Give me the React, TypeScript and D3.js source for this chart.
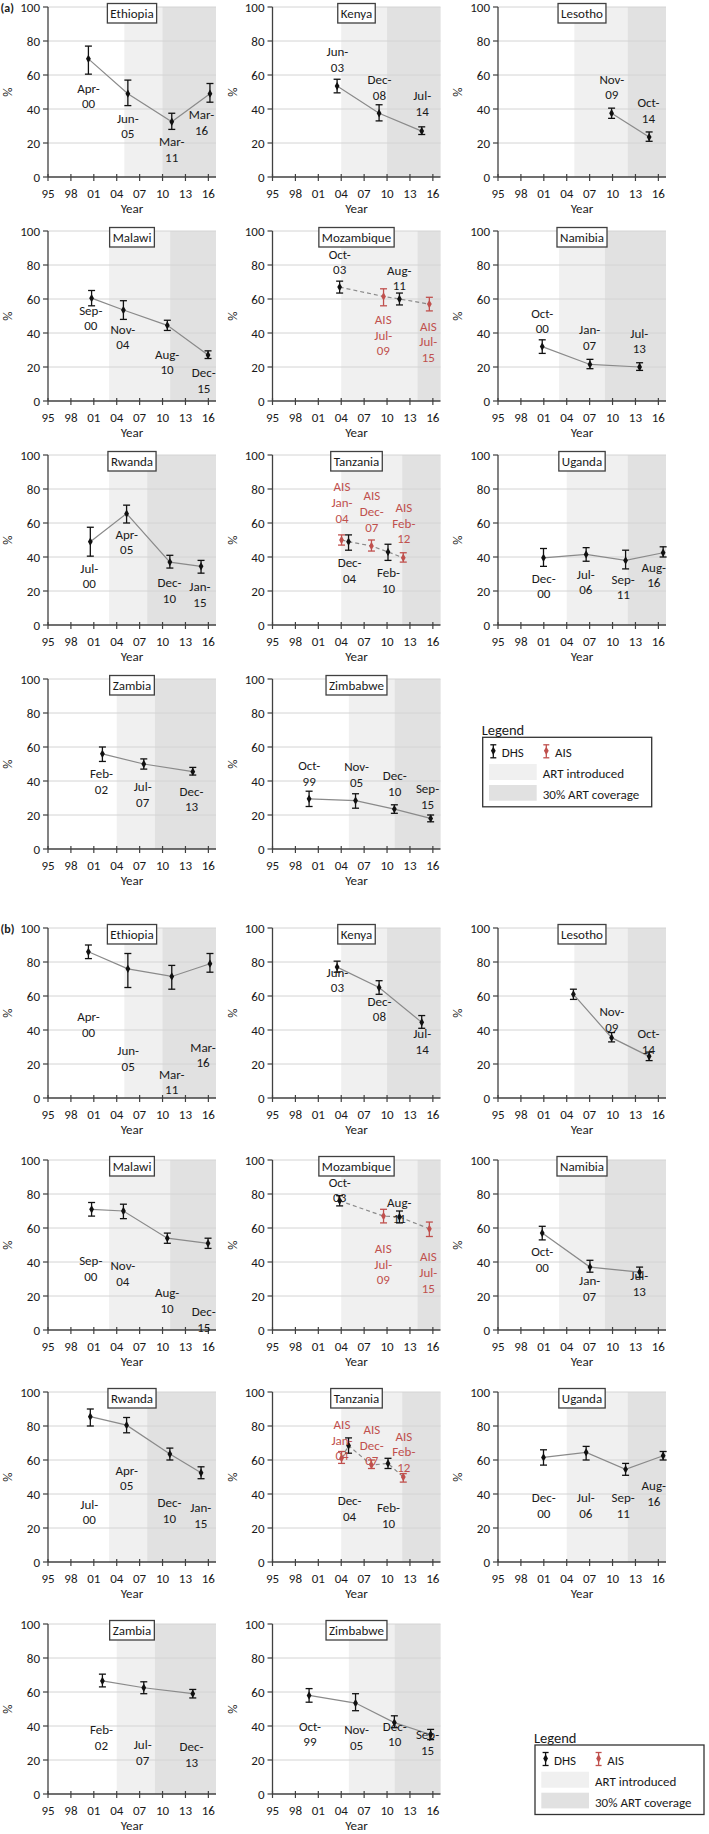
import React from "react";
import * as d3 from "d3";

type Survey = { src: "DHS" | "AIS"; date: string; v: number; lo: number; hi: number };

const YEAR_TICKS = [1995, 1998, 2001, 2004, 2007, 2010, 2013, 2016];
const Y_TICKS = [0, 20, 40, 60, 80, 100];
const COUNTRIES = ["Ethiopia", "Kenya", "Lesotho", "Malawi", "Mozambique", "Namibia", "Rwanda", "Tanzania", "Uganda", "Zambia", "Zimbabwe"];
const ART_INTRODUCED = [2005, 2004, 2005, 2003, 2004, 2003, 2003, 2004, 2004, 2004, 2005];
const ART_30PCT = [2010, 2010, 2012, 2011, 2014, 2009, 2008, 2012, 2012, 2009, 2011];

// ---------- Panel (a) ----------
const A_ETHIOPIA: Survey[] = [
  { src: "DHS", date: "Apr-00", v: 69.5, lo: 60.5, hi: 77 },
  { src: "DHS", date: "Jun-05", v: 49, lo: 42, hi: 57 },
  { src: "DHS", date: "Mar-11", v: 32.5, lo: 28, hi: 37.5 },
  { src: "DHS", date: "Mar-16", v: 49, lo: 44, hi: 55 },
];
const A_KENYA: Survey[] = [
  { src: "DHS", date: "Jun-03", v: 53.5, lo: 49.5, hi: 57.5 },
  { src: "DHS", date: "Dec-08", v: 37.5, lo: 33, hi: 42.5 },
  { src: "DHS", date: "Jul-14", v: 27, lo: 25, hi: 29.5 },
];
const A_LESOTHO: Survey[] = [
  { src: "DHS", date: "Nov-09", v: 37.5, lo: 34.5, hi: 40.5 },
  { src: "DHS", date: "Oct-14", v: 23.5, lo: 21, hi: 26.5 },
];
const A_MALAWI: Survey[] = [
  { src: "DHS", date: "Sep-00", v: 60.5, lo: 56, hi: 65 },
  { src: "DHS", date: "Nov-04", v: 53.5, lo: 48, hi: 59 },
  { src: "DHS", date: "Aug-10", v: 44.5, lo: 41.5, hi: 47.5 },
  { src: "DHS", date: "Dec-15", v: 27, lo: 25, hi: 29.5 },
];
const A_MOZAMBIQUE: Survey[] = [
  { src: "DHS", date: "Oct-03", v: 67, lo: 63.5, hi: 70.5 },
  { src: "AIS", date: "Jul-09", v: 61.5, lo: 56, hi: 66 },
  { src: "DHS", date: "Aug-11", v: 60, lo: 56.5, hi: 63.5 },
  { src: "AIS", date: "Jul-15", v: 57, lo: 53, hi: 61 },
];
const A_NAMIBIA: Survey[] = [
  { src: "DHS", date: "Oct-00", v: 32, lo: 28, hi: 36 },
  { src: "DHS", date: "Jan-07", v: 21.5, lo: 19, hi: 24.5 },
  { src: "DHS", date: "Jul-13", v: 20, lo: 18, hi: 22.5 },
];
const A_RWANDA: Survey[] = [
  { src: "DHS", date: "Jul-00", v: 49, lo: 40.5, hi: 57.5 },
  { src: "DHS", date: "Apr-05", v: 65.5, lo: 60, hi: 70.5 },
  { src: "DHS", date: "Dec-10", v: 37, lo: 33.5, hi: 41 },
  { src: "DHS", date: "Jan-15", v: 34.5, lo: 30.5, hi: 38 },
];
const A_TANZANIA: Survey[] = [
  { src: "AIS", date: "Jan-04", v: 50, lo: 47, hi: 53 },
  { src: "DHS", date: "Dec-04", v: 49, lo: 44, hi: 53 },
  { src: "AIS", date: "Dec-07", v: 46.5, lo: 43.5, hi: 50 },
  { src: "DHS", date: "Feb-10", v: 43, lo: 38, hi: 47.5 },
  { src: "AIS", date: "Feb-12", v: 39.5, lo: 37, hi: 42.5 },
];
const A_UGANDA: Survey[] = [
  { src: "DHS", date: "Dec-00", v: 39.5, lo: 34.5, hi: 45 },
  { src: "DHS", date: "Jul-06", v: 41.5, lo: 37.5, hi: 45.5 },
  { src: "DHS", date: "Sep-11", v: 38, lo: 33, hi: 44 },
  { src: "DHS", date: "Aug-16", v: 42.5, lo: 40, hi: 46 },
];
const A_ZAMBIA: Survey[] = [
  { src: "DHS", date: "Feb-02", v: 56, lo: 51.5, hi: 60 },
  { src: "DHS", date: "Jul-07", v: 50, lo: 47, hi: 53 },
  { src: "DHS", date: "Dec-13", v: 45.5, lo: 43.5, hi: 48 },
];
const A_ZIMBABWE: Survey[] = [
  { src: "DHS", date: "Oct-99", v: 29.5, lo: 25, hi: 34 },
  { src: "DHS", date: "Nov-05", v: 28.5, lo: 24, hi: 32.5 },
  { src: "DHS", date: "Dec-10", v: 23.5, lo: 21, hi: 26 },
  { src: "DHS", date: "Sep-15", v: 18, lo: 16, hi: 20 },
];
const A_SURVEYS = [A_ETHIOPIA, A_KENYA, A_LESOTHO, A_MALAWI, A_MOZAMBIQUE, A_NAMIBIA, A_RWANDA, A_TANZANIA, A_UGANDA, A_ZAMBIA, A_ZIMBABWE];
// label anchors [year, value of first text line]
const A_LABELS: ([number, number] | null)[][] = [
  [[2000.3, 52.3], [2005.45, 34.6], [2011.2, 20.9], [2015.1, 36.6]],
  [[2003.5, 73.7], [2009.0, 57.2], [2014.6, 47.8]],
  [[2009.9, 57.5], [2014.7, 43.7]],
  [[2000.6, 53.5], [2004.8, 42.2], [2010.6, 27.5], [2015.4, 16.7]],
  [[2003.8, 86.3], [2009.5, 48], [2011.6, 76.9], [2015.4, 44]],
  [[2000.8, 51.6], [2007.0, 41.8], [2013.5, 40]],
  [[2000.4, 33.4], [2005.3, 53.4], [2010.9, 24.9], [2014.9, 22.5]],
  [[2004.1, 81.4], [2005.1, 36.8], [2008.0, 76.1], [2010.2, 30.6], [2012.2, 69.2]],
  [[2001.0, 27.6], [2006.5, 30], [2011.4, 27], [2015.4, 34]],
  [[2002.0, 44.3], [2007.4, 36.8], [2013.8, 34]],
  [[1999.8, 49], [2006.0, 48.6], [2011.0, 43.3], [2015.3, 35.5]],
];

// ---------- Panel (b) ----------
const B_ETHIOPIA: Survey[] = [
  { src: "DHS", date: "Apr-00", v: 86, lo: 82, hi: 90 },
  { src: "DHS", date: "Jun-05", v: 76, lo: 65, hi: 85 },
  { src: "DHS", date: "Mar-11", v: 71.5, lo: 64, hi: 78 },
  { src: "DHS", date: "Mar-16", v: 79, lo: 74, hi: 85 },
];
const B_KENYA: Survey[] = [
  { src: "DHS", date: "Jun-03", v: 77, lo: 74, hi: 80.5 },
  { src: "DHS", date: "Dec-08", v: 65, lo: 61, hi: 69 },
  { src: "DHS", date: "Jul-14", v: 44.5, lo: 41, hi: 48.5 },
];
const B_LESOTHO: Survey[] = [
  { src: "DHS", date: "Nov-04", v: 61, lo: 58, hi: 64 },
  { src: "DHS", date: "Nov-09", v: 35.5, lo: 33, hi: 38.5 },
  { src: "DHS", date: "Oct-14", v: 24.5, lo: 22, hi: 27 },
];
const B_MALAWI: Survey[] = [
  { src: "DHS", date: "Sep-00", v: 71, lo: 67, hi: 75 },
  { src: "DHS", date: "Nov-04", v: 70, lo: 65.5, hi: 74 },
  { src: "DHS", date: "Aug-10", v: 54, lo: 51, hi: 57 },
  { src: "DHS", date: "Dec-15", v: 51, lo: 48, hi: 54 },
];
const B_MOZAMBIQUE: Survey[] = [
  { src: "DHS", date: "Oct-03", v: 76, lo: 73, hi: 79 },
  { src: "AIS", date: "Jul-09", v: 67, lo: 63, hi: 71 },
  { src: "DHS", date: "Aug-11", v: 66.5, lo: 63, hi: 70 },
  { src: "AIS", date: "Jul-15", v: 59.5, lo: 55, hi: 63.5 },
];
const B_NAMIBIA: Survey[] = [
  { src: "DHS", date: "Oct-00", v: 57, lo: 53, hi: 61 },
  { src: "DHS", date: "Jan-07", v: 37, lo: 34, hi: 41 },
  { src: "DHS", date: "Jul-13", v: 34, lo: 31, hi: 37 },
];
const B_RWANDA: Survey[] = [
  { src: "DHS", date: "Jul-00", v: 85.5, lo: 80, hi: 90 },
  { src: "DHS", date: "Apr-05", v: 80.5, lo: 76, hi: 85 },
  { src: "DHS", date: "Dec-10", v: 63.5, lo: 60, hi: 67 },
  { src: "DHS", date: "Jan-15", v: 52.5, lo: 49, hi: 56 },
];
const B_TANZANIA: Survey[] = [
  { src: "AIS", date: "Jan-04", v: 61, lo: 58, hi: 65 },
  { src: "DHS", date: "Dec-04", v: 68.5, lo: 64, hi: 73 },
  { src: "AIS", date: "Dec-07", v: 57, lo: 55, hi: 60 },
  { src: "DHS", date: "Feb-10", v: 58, lo: 55, hi: 61 },
  { src: "AIS", date: "Feb-12", v: 50, lo: 47, hi: 52 },
];
const B_UGANDA: Survey[] = [
  { src: "DHS", date: "Dec-00", v: 61.5, lo: 57, hi: 66 },
  { src: "DHS", date: "Jul-06", v: 64.5, lo: 60, hi: 68 },
  { src: "DHS", date: "Sep-11", v: 54.5, lo: 51, hi: 58 },
  { src: "DHS", date: "Aug-16", v: 62.5, lo: 60, hi: 65 },
];
const B_ZAMBIA: Survey[] = [
  { src: "DHS", date: "Feb-02", v: 66.5, lo: 63, hi: 70.5 },
  { src: "DHS", date: "Jul-07", v: 62.5, lo: 59, hi: 66 },
  { src: "DHS", date: "Dec-13", v: 59, lo: 56.5, hi: 61.5 },
];
const B_ZIMBABWE: Survey[] = [
  { src: "DHS", date: "Oct-99", v: 58, lo: 54, hi: 62 },
  { src: "DHS", date: "Nov-05", v: 53.5, lo: 49, hi: 59 },
  { src: "DHS", date: "Dec-10", v: 42, lo: 39, hi: 46 },
  { src: "DHS", date: "Sep-15", v: 35, lo: 32, hi: 38 },
];
const B_SURVEYS = [B_ETHIOPIA, B_KENYA, B_LESOTHO, B_MALAWI, B_MOZAMBIQUE, B_NAMIBIA, B_RWANDA, B_TANZANIA, B_UGANDA, B_ZAMBIA, B_ZIMBABWE];
const B_LABELS: ([number, number] | null)[][] = [
  [[2000.3, 48], [2005.5, 28], [2011.2, 14], [2015.3, 30]],
  [[2003.5, 74], [2009.0, 57], [2014.6, 38]],
  [null, [2009.9, 51], [2014.7, 38]],
  [[2000.6, 41], [2004.8, 38], [2010.6, 22], [2015.4, 11]],
  [[2003.8, 87], [2009.5, 48], [2011.6, 75], [2015.4, 43]],
  [[2000.8, 46], [2007.0, 29], [2013.5, 32]],
  [[2000.4, 34], [2005.3, 54], [2010.9, 35], [2015.0, 32]],
  [[2004.1, 81], [2005.1, 36], [2008.0, 78], [2010.2, 32], [2012.2, 74]],
  [[2001.0, 38], [2006.5, 38], [2011.4, 38], [2015.4, 45]],
  [[2002.0, 38], [2007.4, 29], [2013.8, 28]],
  [[1999.9, 40], [2006.0, 38], [2011.0, 40], [2015.3, 35]],
];

// ---------- layout & style ----------
const COL_X = [48, 272.5, 498];
const ROWS_A = [7, 231, 455, 679];
const ROWS_B = [928, 1160, 1392, 1624];
const PW = 168;
const PH = 170;
const FONT = "Carlito, Calibri, Lato, sans-serif";
const LIGHT = "#f0f0f0";
const DARK = "#e1e1e1";
const AIS_COLOR = "#c0504d";
const TXT = "#1a1a1a";

const MONTHS = ["Jan", "Feb", "Mar", "Apr", "May", "Jun", "Jul", "Aug", "Sep", "Oct", "Nov", "Dec"];
function dateToYear(d: string): number {
  const [m, y] = d.split("-");
  const yy = +y;
  const year = yy > 50 ? 1900 + yy : 2000 + yy;
  return year + (MONTHS.indexOf(m) + 0.5) / 12;
}

let _ctx: CanvasRenderingContext2D | null = null;
function textWidth(s: string, font: string): number {
  if (!_ctx) _ctx = document.createElement("canvas").getContext("2d");
  if (!_ctx) return s.length * 7;
  _ctx.font = font;
  return _ctx.measureText(s).width;
}

const diamond = d3.symbol().type(d3.symbolDiamond).size(20)() as string;

function Plot(props: { x0: number; y0: number; name: string; art: number; cov: number; surveys: Survey[]; labels: ([number, number] | null)[] }) {
  const { x0, y0, name, art, cov, surveys, labels } = props;
  const x = d3.scaleLinear().domain([1995, 2017]).range([0, PW]);
  const y = d3.scaleLinear().domain([0, 100]).range([PH, 0]);
  const hasAIS = surveys.some((s) => s.src === "AIS");
  const sorted = [...surveys].sort((a, b) => dateToYear(a.date) - dateToYear(b.date));
  const line = d3.line<Survey>().x((d) => x(dateToYear(d.date))).y((d) => y(d.v));
  const tw = textWidth(name, `13px ${FONT}`);
  const boxW = tw + 6;
  return (
    <g transform={`translate(${x0},${y0})`} fontFamily={FONT}>
      <rect x={x(art)} y={0} width={PW - x(art)} height={PH} fill={LIGHT} />
      <rect x={x(cov)} y={0} width={PW - x(cov)} height={PH} fill={DARK} />
      {Y_TICKS.filter((t) => t > 0).map((t) => (
        <line key={t} x1={0} x2={PW} y1={y(t)} y2={y(t)} stroke="#d4d4d4" strokeWidth={1} />
      ))}
      <line x1={0} x2={0} y1={0} y2={PH} stroke="#404040" strokeWidth={1.3} />
      <line x1={0} x2={PW} y1={PH} y2={PH} stroke="#404040" strokeWidth={1.3} />
      {Y_TICKS.map((t) => (
        <g key={t}>
          <line x1={-5} x2={0} y1={y(t)} y2={y(t)} stroke="#404040" strokeWidth={1.2} />
          <text x={-8} y={y(t) + 4.5} textAnchor="end" fontSize={13} fill={TXT}>{t}</text>
        </g>
      ))}
      {YEAR_TICKS.map((t) => (
        <g key={t}>
          <line x1={x(t)} x2={x(t)} y1={PH - 3} y2={PH + 4} stroke="#404040" strokeWidth={1.2} />
          <text x={x(t)} y={PH + 21} textAnchor="middle" fontSize={13} fill={TXT}>{String(t % 100).padStart(2, "0")}</text>
        </g>
      ))}
      <text x={PW / 2} y={PH + 36} textAnchor="middle" fontSize={13} fill={TXT}>Year</text>
      <text transform={`translate(-36,${PH / 2}) rotate(-90)`} textAnchor="middle" fontSize={13} fill={TXT}>%</text>
      <path d={line(sorted) || ""} fill="none" stroke="#8a8a8a" strokeWidth={1.2} strokeDasharray={hasAIS ? "4,3" : undefined} />
      {surveys.map((s, i) => {
        const cx = x(dateToYear(s.date));
        const col = s.src === "AIS" ? AIS_COLOR : "#111";
        return (
          <g key={i} stroke={col} strokeWidth={1.3}>
            <line x1={cx} x2={cx} y1={y(s.hi)} y2={y(s.lo)} />
            <line x1={cx - 3.5} x2={cx + 3.5} y1={y(s.hi)} y2={y(s.hi)} />
            <line x1={cx - 3.5} x2={cx + 3.5} y1={y(s.lo)} y2={y(s.lo)} />
            <path d={diamond} transform={`translate(${cx},${y(s.v)})`} fill={col} stroke="none" />
          </g>
        );
      })}
      {surveys.map((s, i) => {
        const lab = labels[i];
        if (!lab) return null;
        const [m, yy] = s.date.split("-");
        const lines = s.src === "AIS" ? ["AIS", m + "-", yy] : [m + "-", yy];
        const col = s.src === "AIS" ? AIS_COLOR : TXT;
        return (
          <text key={"l" + i} fontSize={13} fill={col} textAnchor="middle">
            {lines.map((ln, k) => (
              <tspan key={k} x={x(lab[0])} y={y(lab[1]) + 4.5 + k * 15.7}>{ln}</tspan>
            ))}
          </text>
        );
      })}
      <rect x={PW / 2 - boxW / 2} y={-3.5} width={boxW} height={19.5} fill="#fff" stroke="#404040" strokeWidth={1.3} />
      <text x={PW / 2} y={10.5} textAnchor="middle" fontSize={13} fill={TXT}>{name}</text>
    </g>
  );
}

function Legend({ x0, y0 }: { x0: number; y0: number }) {
  const icon = (cx: number, cy: number, col: string) => (
    <g stroke={col} strokeWidth={1.3}>
      <line x1={cx} x2={cx} y1={cy - 7} y2={cy + 6} />
      <line x1={cx - 3} x2={cx + 3} y1={cy - 7} y2={cy - 7} />
      <line x1={cx - 3} x2={cx + 3} y1={cy + 6} y2={cy + 6} />
      <path d={diamond} transform={`translate(${cx},${cy - 1})`} fill={col} stroke="none" />
    </g>
  );
  return (
    <g transform={`translate(${x0},${y0})`} fontFamily={FONT} fill={TXT}>
      <text x={-1} y={-2.5} fontSize={14.5}>Legend</text>
      <rect x={0} y={0} width={169} height={69.5} fill="#fff" stroke="#333" strokeWidth={1.3} />
      {icon(10.6, 14.5, "#111")}
      <text x={19} y={19.5} fontSize={13}>DHS</text>
      {icon(63.6, 14.5, AIS_COLOR)}
      <text x={72.3} y={19.5} fontSize={13}>AIS</text>
      <rect x={6.3} y={26.7} width={47.7} height={16} fill={LIGHT} />
      <text x={60} y={40.5} fontSize={13}>ART introduced</text>
      <rect x={6.3} y={47.7} width={47.7} height={15.7} fill={DARK} />
      <text x={60} y={61.5} fontSize={13}>30% ART coverage</text>
    </g>
  );
}

function Panel({ rows, surveys, labels, tag, legendPos }: { rows: number[]; surveys: Survey[][]; labels: ([number, number] | null)[][]; tag: string; legendPos: [number, number] }) {
  return (
    <g>
      <text x={0.5} y={rows[0] + 5} fontSize={12} fontWeight="bold" fontFamily={FONT} fill={TXT}>{tag}</text>
      {COUNTRIES.map((c, i) => (
        <Plot key={c} x0={COL_X[i % 3]} y0={rows[Math.floor(i / 3)]} name={c} art={ART_INTRODUCED[i]} cov={ART_30PCT[i]} surveys={surveys[i]} labels={labels[i]} />
      ))}
      <Legend x0={legendPos[0]} y0={legendPos[1]} />
    </g>
  );
}

export default function App() {
  return (
    <svg width={709} height={1834} style={{ position: "absolute", left: 0, top: 0, background: "#fff" }}>
      <rect width={709} height={1834} fill="#fff" />
      <Panel rows={ROWS_A} surveys={A_SURVEYS} labels={A_LABELS} tag="(a)" legendPos={[482.7, 737.3]} />
      <Panel rows={ROWS_B} surveys={B_SURVEYS} labels={B_LABELS} tag="(b)" legendPos={[535, 1745]} />
    </svg>
  );
}
